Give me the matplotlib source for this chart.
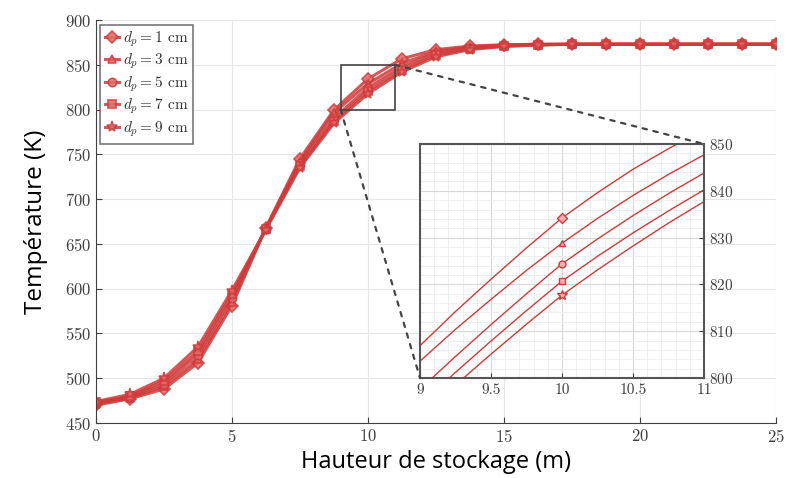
import numpy as np
import matplotlib.pyplot as plt
from matplotlib.patches import Rectangle, ConnectionPatch

plt.rcParams['mathtext.fontset'] = 'cm'
plt.rcParams['font.family'] = 'cmr10'
plt.rcParams['axes.formatter.use_mathtext'] = True

# hauteur (m) et temperatures (K)
hauteur = [0, 1.25, 2.5, 3.75, 5, 6.25, 7.5, 8.75, 10, 11.25, 12.5, 13.75,
           15, 16.25, 17.5, 18.75, 20, 21.25, 22.5, 23.75, 25]
T_d1 = [470, 477, 488, 517, 581, 668, 745, 799.5, 834.2, 856.8, 867, 871, 872.5, 873, 873, 873, 873, 873, 873, 873, 873]
T_d3 = [471, 478, 491, 521, 585, 668, 742, 796.4, 828.8, 851.6, 865, 870, 872, 873, 873, 873, 873, 873, 873, 873, 873]
T_d5 = [472, 479, 494, 526, 590, 667, 740, 790.4, 824.4, 847.9, 863, 869, 871.5, 872.5, 873, 873, 873, 873, 873, 873, 873]
T_d7 = [473, 480, 497, 530, 594, 667, 737, 787.2, 820.7, 844.4, 861, 868, 871, 872.5, 873, 873, 873, 873, 873, 873, 873]
T_d9 = [474, 482, 500, 535, 598, 666, 735, 784.7, 817.7, 842.0, 859, 867, 870.5, 872, 873, 873, 873, 873, 873, 873, 873]

h_zoom = [8.75, 9, 9.25, 9.5, 9.75, 10, 10.25, 10.5, 10.75, 11, 11.25]
Tz_d1 = [799.5, 806.9, 814.2, 821.1, 827.8, 834.2, 839.6, 844.6, 849.0, 853.0, 856.8]
Tz_d3 = [796.4, 803.6, 810.4, 816.8, 823.0, 828.8, 834.1, 839.0, 843.5, 847.7, 851.6]
Tz_d5 = [790.4, 797.6, 804.6, 811.4, 818.0, 824.4, 829.7, 834.7, 839.4, 843.8, 847.9]
Tz_d7 = [787.2, 794.3, 801.2, 807.9, 814.4, 820.7, 826.0, 831.0, 835.7, 840.2, 844.4]
Tz_d9 = [784.7, 791.7, 798.5, 805.1, 811.5, 817.7, 823.1, 828.2, 833.1, 837.7, 842.0]

labels = [r'$d_p = 1$ cm', r'$d_p = 3$ cm', r'$d_p = 5$ cm', r'$d_p = 7$ cm', r'$d_p = 9$ cm']
markers = ['D', '^', 'o', 's', '*']
series = [T_d1, T_d3, T_d5, T_d7, T_d9]
series_z = [Tz_d1, Tz_d3, Tz_d5, Tz_d7, Tz_d9]
red = '#d03a3a'

fig = plt.figure(figsize=(7.86, 4.78), dpi=100)
ax = fig.add_axes([0.122, 0.115, 0.865, 0.843])

for T, m, lab in zip(series, markers, labels):
    ms = 6 if m != '*' else 8
    ax.plot(hauteur, T, color=red, lw=2.2, marker=m, ms=ms, mfc='#e46a6a', mec=red,
            mew=1.2, label=lab, alpha=0.85)

ax.set_xlim(0, 25)
ax.set_ylim(450, 900)
ax.set_xticks([0, 5, 10, 15, 20, 25])
ax.set_yticks(np.arange(450, 901, 50))
ax.grid(True, color='#e6e6e6', lw=0.8)
ax.spines['top'].set_visible(False)
ax.spines['right'].set_visible(False)
for s in ['left', 'bottom']:
    ax.spines[s].set_color('#404040')
ax.tick_params(labelsize=12, colors='#404040', direction='in', length=4)
ax.set_xlabel('Hauteur de stockage (m)', family='Open Sans', fontsize=17, color='black', labelpad=4)
ax.set_ylabel('Température (K)', family='Open Sans', fontsize=17.5, color='black', labelpad=12)

leg = ax.legend(loc='upper left', fontsize=11, frameon=True, fancybox=False,
                edgecolor='#555555', handlelength=0.9, handletextpad=0.3,
                borderpad=0.3, labelspacing=0.2, borderaxespad=0.3)
leg.get_frame().set_linewidth(1.2)
for t in leg.get_texts():
    t.set_color('#333333')

ax.add_patch(Rectangle((9, 800), 2, 50, fill=False, ec='#444444', lw=1.2, zorder=5))

# encart
axi = fig.add_axes([420 / 786, 1 - 378 / 478, 284 / 786, 234 / 478])
for Tz, m in zip(series_z, markers):
    axi.plot(h_zoom, Tz, color=red, lw=1.0)
    ms = 5 if m != '*' else 7
    axi.plot(h_zoom[5], Tz[5], ls='none', marker=m, ms=ms, mfc='#f3b0b0', mec=red, mew=1.0)
axi.set_xlim(9, 11)
axi.set_ylim(800, 850)
axi.set_xticks([9, 9.5, 10, 10.5, 11])
axi.set_xticklabels(['9', '9.5', '10', '10.5', '11'])
axi.set_yticks(np.arange(800, 851, 10))
axi.minorticks_on()
axi.xaxis.set_minor_locator(plt.MultipleLocator(0.1))
axi.yaxis.set_minor_locator(plt.MultipleLocator(2))
axi.grid(True, which='major', color='#d8d8d8', lw=0.8)
axi.grid(True, which='minor', color='#ececec', lw=0.6)
axi.yaxis.tick_right()
axi.tick_params(which='both', direction='in', labelsize=11, colors='#404040')
axi.tick_params(which='minor', length=0)
for s in axi.spines.values():
    s.set_color('#555555')
    s.set_linewidth(1.5)

for xa, ya in [(9, 800), (11, 850)]:
    con = ConnectionPatch(xyA=(xa, ya), coordsA=ax.transData, xyB=(xa, ya), coordsB=axi.transData,
                          ls=(0, (2, 3)), color='#444444', lw=1.6)
    fig.add_artist(con)

fig.savefig('out.png', dpi=100)
